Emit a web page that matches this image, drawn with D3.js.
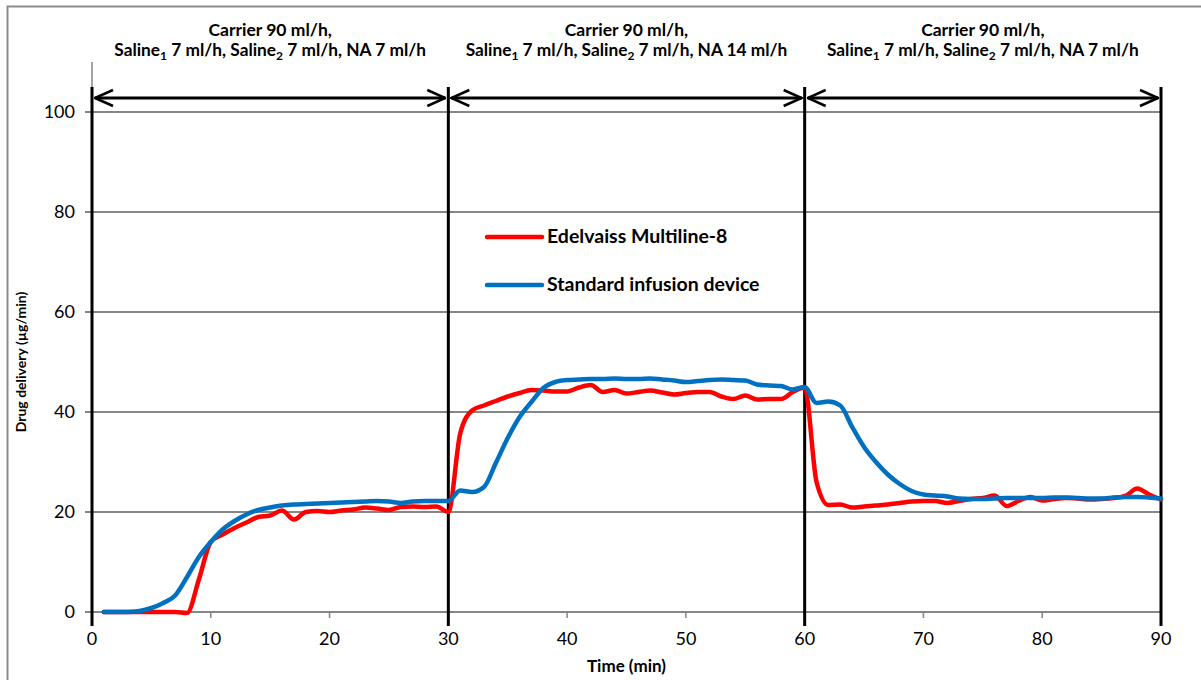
<!DOCTYPE html>
<html>
<head>
<meta charset="utf-8">
<script src="https://cdn.jsdelivr.net/npm/d3@7"></script>
<style>
  body { margin: 0; background: #ffffff; }
  text { font-family: Lato, "Open Sans", sans-serif; fill: #000000; }
</style>
</head>
<body>
<div id="chart"></div>
<script>
// minutes 1..90
const minutes = d3.range(1, 91);

const edelvaissValues = [
  0, 0, 0, 0, 0, 0, 0, -0.2, 6.5, 14,
  15.5, 16.8, 17.9, 19, 19.3, 20.3, 18.5, 20, 20.2, 20,
  20.3, 20.5, 20.9, 20.7, 20.4, 21, 21.1, 21, 21.1, 20,
  35.7, 40.3, 41.3, 42.2, 43.1, 43.8, 44.4, 44.3, 44.1, 44.1,
  44.9, 45.4, 44, 44.4, 43.7, 44, 44.3, 43.9, 43.5, 43.8,
  44, 44, 43.1, 42.6, 43.3, 42.5, 42.6, 42.6, 44, 44.9,
  26, 21.4, 21.5, 20.9, 21.1, 21.3, 21.5, 21.8, 22.1, 22.2,
  22.2, 21.8, 22.2, 22.6, 22.8, 23.3, 21.2, 22.2, 23, 22.3,
  22.6, 22.8, 22.7, 22.5, 22.6, 22.8, 23.2, 24.7, 23.5, 22.5
];

const standardValues = [
  0, 0, 0, 0.2, 0.8, 1.8, 3.3, 7, 11, 14,
  16.5, 18.2, 19.5, 20.4, 20.9, 21.3, 21.5, 21.6, 21.7, 21.8,
  21.9, 22, 22.1, 22.2, 22.1, 21.8, 22.1, 22.2, 22.2, 22.2,
  24.3, 24, 25, 29.8, 34.8, 39, 42, 44.8, 46, 46.4,
  46.5, 46.6, 46.6, 46.7, 46.6, 46.6, 46.7, 46.5, 46.3, 46,
  46.2, 46.4, 46.5, 46.4, 46.3, 45.5, 45.3, 45.2, 44.5, 45,
  41.8, 42.1, 41.3, 37, 33, 30, 27.5, 25.6, 24.2, 23.5,
  23.3, 23.1, 22.7, 22.6, 22.6, 22.7, 22.8, 22.8, 22.8, 22.8,
  22.9, 22.9, 22.8, 22.7, 22.7, 22.9, 23, 23, 22.9, 22.7
];

const seriesNames = ["Edelvaiss Multiline-8", "Standard infusion device"];
const seriesColors = ["#ff0000", "#0070c0"];

const xTicks = [0, 10, 20, 30, 40, 50, 60, 70, 80, 90];
const yTicks = [0, 20, 40, 60, 80, 100];

// phase boundaries and their labels
const phaseBounds = [0, 30, 60, 90];
const phaseNA = ["7", "14", "7"];

const dimensions = {
  width: 1201,
  height: 680,
  margin: { left: 92, right: 40, top: 112, bottom: 68 }
};
const plotW = 1161 - dimensions.margin.left;
const plotH = 612 - dimensions.margin.top;

const xScale = d3.scaleLinear().domain([0, 90]).range([0, plotW]);
const yScale = d3.scaleLinear().domain([0, 100]).range([plotH, 0]);

const wrapper = d3.select("#chart")
  .append("svg")
  .attr("width", dimensions.width)
  .attr("height", dimensions.height);

//outer frame
wrapper.append("rect")
  .attr("x", 7.5)
  .attr("y", 6.5)
  .attr("width", 1300)
  .attr("height", 800)
  .style("fill", "none")
  .style("stroke", "#8c8c8c")
  .style("stroke-width", 2);

const defs = wrapper.append("defs");
["arrowEnd", "arrowStart"].forEach((id, i) => {
  defs.append("marker")
    .attr("id", id)
    .attr("viewBox", "0 0 20 20")
    .attr("refX", i == 0 ? 19 : 1)
    .attr("refY", 10)
    .attr("markerWidth", 20)
    .attr("markerHeight", 20)
    .attr("markerUnits", "userSpaceOnUse")
    .attr("orient", "auto")
    .append("path")
    .attr("d", i == 0 ? "M1,2 L19,10 L1,18" : "M19,2 L1,10 L19,18")
    .style("fill", "none")
    .style("stroke", "#000")
    .style("stroke-width", 2.5);
});

const bounds = wrapper.append("g")
  .attr("transform", `translate(${dimensions.margin.left},${dimensions.margin.top})`);

//gridlines
bounds.append("g")
  .selectAll("line")
  .data(yTicks)
  .enter().append("line")
  .attr("x1", -7)
  .attr("x2", plotW)
  .attr("y1", yScale)
  .attr("y2", yScale)
  .style("stroke", "#868686")
  .style("stroke-width", 2);

//thin y axis line
bounds.append("line")
  .attr("x1", 0).attr("x2", 0)
  .attr("y1", -50).attr("y2", plotH)
  .style("stroke", "#868686")
  .style("stroke-width", 1.5);

//x tick marks
bounds.append("g")
  .selectAll("line")
  .data(xTicks)
  .enter().append("line")
  .attr("x1", xScale).attr("x2", xScale)
  .attr("y1", plotH).attr("y2", plotH + 6)
  .style("stroke", "#868686")
  .style("stroke-width", 1.5);

//tick labels
bounds.append("g")
  .selectAll("text")
  .data(yTicks)
  .enter().append("text")
  .attr("x", -17)
  .attr("y", d => yScale(d) + 6)
  .attr("text-anchor", "end")
  .style("font-size", "18px")
  .text(d => d);

bounds.append("g")
  .selectAll("text")
  .data(xTicks)
  .enter().append("text")
  .attr("x", xScale)
  .attr("y", plotH + 33)
  .attr("text-anchor", "middle")
  .style("font-size", "18px")
  .text(d => d);

//axis titles
bounds.append("text")
  .attr("transform", `translate(${-66},${plotH / 2}) rotate(-90)`)
  .attr("text-anchor", "middle")
  .style("font-size", "14px")
  .style("font-weight", "bold")
  .text("Drug delivery (µg/min)");

bounds.append("text")
  .attr("x", xScale(45))
  .attr("y", plotH + 60)
  .attr("text-anchor", "middle")
  .style("font-size", "17px")
  .style("font-weight", "bold")
  .text("Time (min)");

//phase separators
bounds.append("g")
  .selectAll("line")
  .data(phaseBounds)
  .enter().append("line")
  .attr("x1", xScale).attr("x2", xScale)
  .attr("y1", -25).attr("y2", plotH + 14)
  .style("stroke", "#000")
  .style("stroke-width", 3);

//phase arrows and labels
const phases = bounds.append("g")
  .selectAll("g")
  .data(phaseNA)
  .enter().append("g");

phases.append("line")
  .attr("x1", (d, i) => xScale(phaseBounds[i]) + 3)
  .attr("x2", (d, i) => xScale(phaseBounds[i + 1]) - 3)
  .attr("y1", -14).attr("y2", -14)
  .attr("marker-start", "url(#arrowStart)")
  .attr("marker-end", "url(#arrowEnd)")
  .style("stroke", "#000")
  .style("stroke-width", 3);

phases.append("text")
  .attr("x", (d, i) => xScale((phaseBounds[i] + phaseBounds[i + 1]) / 2))
  .attr("y", -76)
  .attr("text-anchor", "middle")
  .style("font-size", "17.5px")
  .style("font-weight", "bold")
  .text("Carrier 90 ml/h,");

const line2 = phases.append("text")
  .attr("x", (d, i) => xScale((phaseBounds[i] + phaseBounds[i + 1]) / 2))
  .attr("y", -56)
  .attr("text-anchor", "middle")
  .style("font-size", "17.3px")
  .style("font-weight", "bold");
line2.append("tspan").text("Saline");
line2.append("tspan").attr("dy", 4).style("font-size", "12px").text("1");
line2.append("tspan").attr("dy", -4).text(" 7 ml/h, Saline");
line2.append("tspan").attr("dy", 4).style("font-size", "12px").text("2");
line2.append("tspan").attr("dy", -4).text(d => ` 7 ml/h, NA ${d} ml/h`);

//series lines
const lineGen = d3.line()
  .x((d, i) => xScale(minutes[i]))
  .y(d => yScale(d))
  .curve(d3.curveMonotoneX);

bounds.append("g")
  .selectAll("path")
  .data([edelvaissValues, standardValues])
  .enter().append("path")
  .attr("d", lineGen)
  .style("fill", "none")
  .style("stroke", (d, i) => seriesColors[i])
  .style("stroke-width", 4.5)
  .style("stroke-linejoin", "round")
  .style("stroke-linecap", "round");

//legend
const legend = bounds.append("g")
  .attr("transform", `translate(${487 - dimensions.margin.left},${237 - dimensions.margin.top})`)
  .selectAll("g")
  .data(seriesNames)
  .enter().append("g")
  .attr("transform", (d, i) => `translate(0,${i * 48})`);

legend.append("line")
  .attr("x1", 0).attr("x2", 55)
  .style("stroke", (d, i) => seriesColors[i])
  .style("stroke-width", 4.5)
  .style("stroke-linecap", "round");

legend.append("text")
  .attr("x", 60)
  .attr("y", 6)
  .style("font-size", "19.5px")
  .style("font-weight", "bold")
  .text(d => d);
</script>
</body>
</html>
